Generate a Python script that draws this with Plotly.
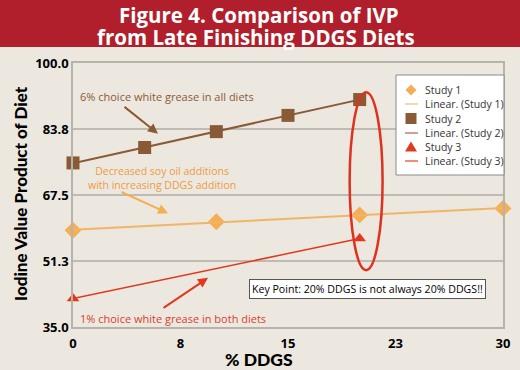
import numpy as np
import plotly.graph_objects as go

# ---- data ----
study1_x = [0, 10, 20, 30]
study1_y = [58.8, 60.9, 62.6, 64.2]
study2_x = [0, 5, 10, 15, 20]
study2_y = [75.4, 79.2, 83.1, 87.1, 91.0]
study3_x = [0, 20]
study3_y = [42.0, 56.8]

x_tickvals = [0, 7.5, 15, 22.5, 30]
x_ticktext = ["0", "8", "15", "23", "30"]
y_tickvals = [35, 51.25, 67.5, 83.75, 100]
y_ticktext = ["35.0", "51.3", "67.5", "83.8", "100.0"]

title_lines = ["Figure 4. Comparison of IVP", "from Late Finishing DDGS Diets"]
legend_names = ["Study 1", "Linear. (Study 1)", "Study 2", "Linear. (Study 2)",
                "Study 3", "Linear. (Study 3)"]

C1 = "#F4AE55"
C1L = "#F2B466"
C2 = "#8A5A36"
C3 = "#E2381F"
BG = "#ECE8DF"
FONT = "Open Sans"
HEAVY = "Lato"


def fit(xs, ys):
    m, b = np.polyfit(xs, ys, 1)
    xx = np.array([min(xs), max(xs)], dtype=float)
    return xx, m * xx + b


fig = go.Figure()
fx, fy = fit(study1_x, study1_y)
fig.add_trace(go.Scatter(x=study1_x, y=study1_y, mode="markers", name=legend_names[0],
                         cliponaxis=False, marker=dict(symbol="diamond", size=13, color=C1)))
fig.add_trace(go.Scatter(x=fx, y=fy, mode="lines", name=legend_names[1],
                         line=dict(color=C1L, width=2)))
fx, fy = fit(study2_x, study2_y)
fig.add_trace(go.Scatter(x=study2_x, y=study2_y, mode="markers", name=legend_names[2],
                         cliponaxis=False, marker=dict(symbol="square", size=13, color=C2)))
fig.add_trace(go.Scatter(x=fx, y=fy, mode="lines", name=legend_names[3],
                         line=dict(color=C2, width=2)))
fx, fy = fit(study3_x, study3_y)
fig.add_trace(go.Scatter(x=study3_x, y=study3_y, mode="markers", name=legend_names[4],
                         cliponaxis=False, marker=dict(symbol="triangle-up", size=11, color=C3)))
fig.add_trace(go.Scatter(x=fx, y=fy, mode="lines", name=legend_names[5],
                         line=dict(color=C3, width=1.5)))

L, R, T, B = 73, 17, 63, 43
W, H = 520, 370
PW, PH = W - L - R, H - T - B


def px(x):
    return (x - L) / PW


def py(y):
    return (H - B - y) / PH


def path(points):
    return "M " + " L ".join("%.5f,%.5f" % (px(a), py(b)) for a, b in points) + " Z"


shapes = [
    dict(type="rect", xref="paper", yref="paper", x0=px(-5), x1=px(525),
         y0=py(47), y1=py(-5), fillcolor="#B01F2B", line=dict(width=0), layer="below"),
    dict(type="circle", xref="x", yref="y", x0=19.3, x1=21.6, y0=49.0, y1=92.8,
         line=dict(color="#E0301E", width=2.5)),
]

# custom legend (box + symbols), drawn in pixel-derived paper coordinates
LX0, LX1, LY0, LY1 = 396, 504, 75, 175
row_y = [90, 104, 118.5, 133, 147, 161]
sym_x = 411
shapes.append(dict(type="rect", xref="paper", yref="paper", x0=px(LX0), x1=px(LX1),
                   y0=py(LY1), y1=py(LY0), fillcolor="white",
                   line=dict(color="#8A8A8A", width=1)))
s = 5.5
shapes.append(dict(type="path", xref="paper", yref="paper",
                   path=path([(sym_x, row_y[0] - s), (sym_x + s, row_y[0]), (sym_x, row_y[0] + s), (sym_x - s, row_y[0])]),
                   fillcolor=C1, line=dict(width=0)))
shapes.append(dict(type="path", xref="paper", yref="paper",
                   path=path([(sym_x - 5.5, row_y[2] - 5.5), (sym_x + 5.5, row_y[2] - 5.5),
                              (sym_x + 5.5, row_y[2] + 5.5), (sym_x - 5.5, row_y[2] + 5.5)]),
                   fillcolor=C2, line=dict(width=0)))
shapes.append(dict(type="path", xref="paper", yref="paper",
                   path=path([(sym_x, row_y[4] - 5.5), (sym_x + 6, row_y[4] + 4.5), (sym_x - 6, row_y[4] + 4.5)]),
                   fillcolor=C3, line=dict(width=0)))
for ry, col in [(row_y[1], "#F3C99A"), (row_y[3], "#B98470"), (row_y[5], "#E46A55")]:
    shapes.append(dict(type="line", xref="paper", yref="paper", x0=px(405), x1=px(418),
                       y0=py(ry), y1=py(ry), line=dict(color=col, width=1.5)))

annotations = [
    dict(text="<b>%s</b>" % title_lines[0], x=px(259), y=py(15), xref="paper", yref="paper",
         showarrow=False, font=dict(family=FONT, size=20.5, color="white"), xanchor="center", yanchor="middle"),
    dict(text="<b>%s</b>" % title_lines[1], x=px(256), y=py(37), xref="paper", yref="paper",
         showarrow=False, font=dict(family=FONT, size=20.5, color="white"), xanchor="center", yanchor="middle"),
    dict(text="Iodine Value Product of Diet", x=px(20), y=py(194), xref="paper", yref="paper",
         textangle=-90, showarrow=False, xanchor="center", yanchor="middle",
         font=dict(family=HEAVY, size=17, color="black", weight=900)),
    dict(text="% DDGS", x=px(259), y=py(359), xref="paper", yref="paper",
         showarrow=False, xanchor="center", yanchor="middle",
         font=dict(family=HEAVY, size=17.5, color="black", weight=900)),
    # arrows
    dict(x=5.93, y=82.6, xref="x", yref="y", ax=-35, ay=-28, text="", showarrow=True,
         arrowhead=2, arrowsize=1, arrowwidth=2, arrowcolor=C2),
    dict(x=6.63, y=63.0, xref="x", yref="y", ax=-48, ay=-22, text="", showarrow=True,
         arrowhead=2, arrowsize=1, arrowwidth=2, arrowcolor=C1),
    dict(x=9.42, y=47.1, xref="x", yref="y", ax=-46, ay=31, text="", showarrow=True,
         arrowhead=2, arrowsize=1, arrowwidth=2, arrowcolor=C3),
    # texts
    dict(text="6% choice white grease in all diets", x=6.56, y=91.8, xref="x", yref="y",
         showarrow=False, font=dict(family=FONT, size=11, color="#8A5A36")),
    dict(text="Decreased soy oil additions<br>with increasing DDGS addition", x=6.21, y=71.6,
         xref="x", yref="y", showarrow=False, font=dict(family=FONT, size=10.5, color="#EE9A45")),
    dict(text="1% choice white grease in both diets", x=6.98, y=37.0, xref="x", yref="y",
         showarrow=False, font=dict(family=FONT, size=11, color="#D9402E")),
    dict(text="Key Point: 20% DDGS is not always 20% DDGS!!", x=20.55, y=44.4, xref="x", yref="y",
         showarrow=False, font=dict(family=FONT, size=10.6, color="black"),
         bgcolor="white", bordercolor="#555555", borderwidth=1, borderpad=2),
]
for name, ry in zip(legend_names, row_y):
    annotations.append(dict(text=name, x=px(423), y=py(ry), xref="paper", yref="paper",
                            xanchor="left", yanchor="middle", showarrow=False,
                            font=dict(family=FONT, size=10.5, color="#333333")))

fig.update_layout(
    width=W, height=H,
    margin=dict(l=L, r=R, t=T, b=B, autoexpand=False),
    paper_bgcolor=BG, plot_bgcolor=BG,
    font=dict(family=FONT),
    shapes=shapes, annotations=annotations,
    showlegend=False,
    xaxis=dict(range=[0, 30], tickvals=x_tickvals, ticktext=x_ticktext, showgrid=False,
               automargin=False, ticks="outside", ticklen=4, tickcolor="rgba(0,0,0,0)",
               zeroline=False, showline=True, mirror=True, linecolor="#B5B3AC", linewidth=1.5,
               tickfont=dict(family=FONT, size=13, color="black", weight="bold")),
    yaxis=dict(range=[35, 100], tickvals=y_tickvals, ticktext=y_ticktext, showgrid=True,
               automargin=False, gridcolor="#BDBBB4", gridwidth=1.5,
               zeroline=False, showline=True, mirror=True, linecolor="#B5B3AC", linewidth=1.5,
               tickfont=dict(family=FONT, size=13, color="black", weight="bold")),
)

fig.write_html("out.html", config={"displayModeBar": False},
               post_script="document.body.style.margin='0';document.body.style.overflow='hidden';")
